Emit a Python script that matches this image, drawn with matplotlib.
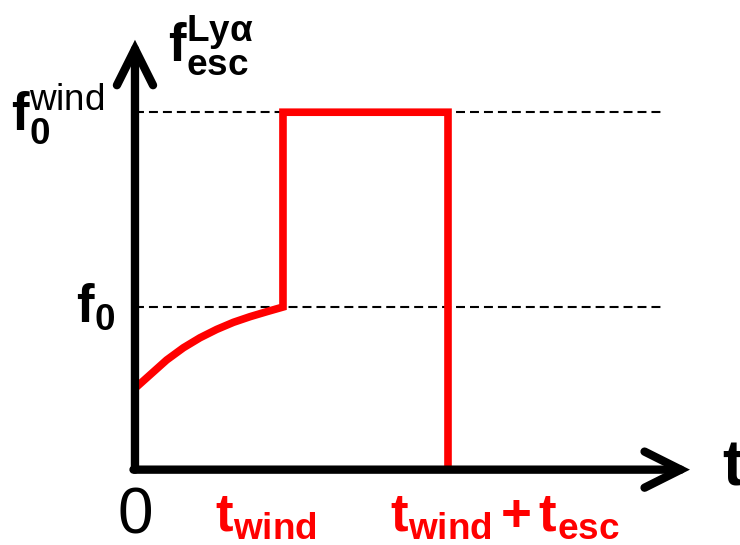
import matplotlib
matplotlib.use("Agg")
import matplotlib.pyplot as plt

plt.rcParams['font.family'] = ['Liberation Sans', 'DejaVu Sans']
plt.rcParams['mathtext.fontset'] = 'custom'
plt.rcParams['mathtext.rm'] = 'Liberation Sans'
plt.rcParams['mathtext.bf'] = 'Liberation Sans:bold'
plt.rcParams['mathtext.it'] = 'Liberation Sans:italic'

# schematic values (t in units of t_wind, f in units of f0)
t_wind = 1.0
t_esc = 1.115
f0 = 1.0
f0_wind = 2.21
curve_t = [0.0, 0.101, 0.214, 0.327, 0.439, 0.552, 0.665, 0.777, 0.89, 1.0]
curve_f = [0.495, 0.578, 0.671, 0.747, 0.809, 0.861, 0.905, 0.940, 0.971, 1.0]

t_end = t_wind + t_esc
t_max = 3.75   # end of time arrow
f_max = 2.66   # end of f arrow
dash_end = 3.58

fig = plt.figure(figsize=(7.4, 5.45), dpi=100)
ax = fig.add_axes([0, 0, 1, 1])
ax.set_xlim(-0.912, 4.088)
ax.set_ylim(-0.478, 2.907)
ax.axis('off')

# dashed reference levels
for lev in (f0, f0_wind):
    ax.plot([0, dash_end], [lev, lev], color='black', lw=1.5, dashes=(4.3, 2.4))

# red escape fraction curve
xs = curve_t + [t_wind, t_end, t_end]
ys = curve_f + [f0_wind, f0_wind, 0]
ax.plot(xs, ys, color='#ff0000', lw=5.5, solid_joinstyle='miter', solid_capstyle='butt')

# axes arrows
arr = dict(arrowstyle='->,head_length=2.6,head_width=1.3', lw=6, color='black',
           shrinkA=0, shrinkB=0, mutation_scale=10, capstyle='round', joinstyle='miter')
ax.annotate('', xy=(t_max, -0.01), xytext=(-0.01, -0.01), arrowprops=arr)
ax.annotate('', xy=(0, f_max), xytext=(0, -0.01), arrowprops=arr)

# labels
ax.text(0, -0.30, '0', fontsize=46, ha='center', va='center')
ax.text(3.97, 0.0, 't', fontsize=46, fontweight='bold', ha='left', va='center')
ax.text(0.54, -0.30, r'$\mathbf{t}_{\mathbf{wind}}$', fontsize=38, color='#ff0000',
        ha='left', va='center')
ax.text(1.72, -0.30,
        r'$\mathbf{t}_{\mathbf{wind}}\,\mathbf{+}\,\mathbf{t}_{\mathbf{esc}}$',
        fontsize=38, color='#ff0000', ha='left', va='center')
ax.text(-0.40, 1.0, r'$\mathbf{f}_{\mathbf{0}}$', fontsize=38, ha='left', va='center')
ax.text(-0.84, 2.2, r'$\mathbf{f}_{\mathbf{0}}^{\mathrm{wind}}$', fontsize=38,
        ha='left', va='center')
ax.text(0.22, 2.63, r'$\mathbf{f}_{\mathbf{esc}}^{\mathbf{Ly\alpha}}$', fontsize=38,
        ha='left', va='center')

fig.savefig('out.png', dpi=100)
